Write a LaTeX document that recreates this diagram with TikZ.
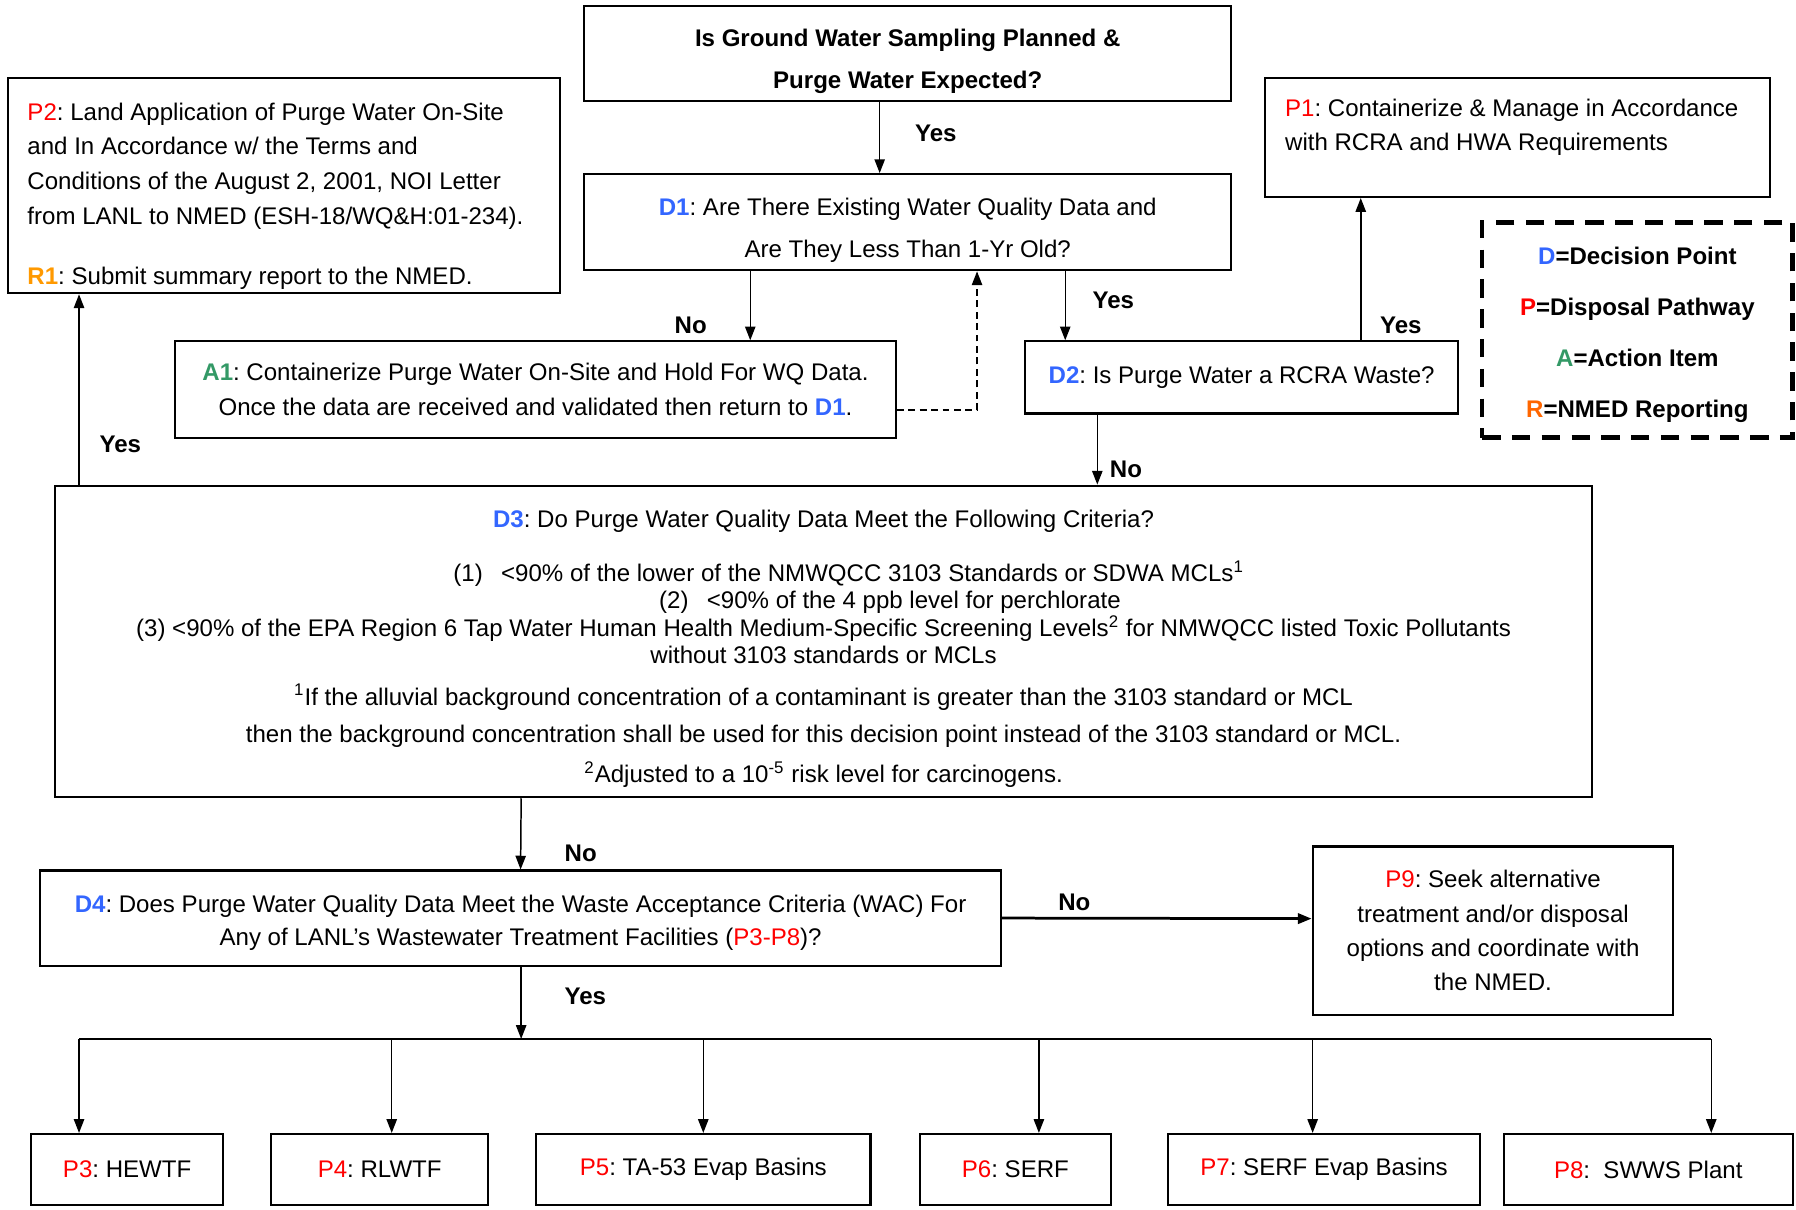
\documentclass[tikz,border=0pt]{standalone}
\usepackage{fontspec}
\setmainfont{Liberation Sans}
\usepackage{xcolor}
\usetikzlibrary{arrows.meta}
\definecolor{dblue}{RGB}{51,102,255}
\definecolor{pred}{RGB}{255,0,0}
\definecolor{agreen}{RGB}{51,153,102}
\definecolor{rorange}{RGB}{255,153,0}
\definecolor{rlegend}{RGB}{255,102,0}
\newcommand{\dpt}[1]{\textcolor{dblue}{\bfseries #1}}
\newcommand{\pwy}[1]{\textcolor{pred}{#1}}
\newcommand{\act}[1]{\textcolor{agreen}{\bfseries #1}}
\newcommand{\rpt}[1]{\textcolor{rorange}{\bfseries #1}}
\newcommand{\boxfont}[1]{\fontsize{10.5}{#1}\selectfont\frenchspacing}

\begin{document}
\begin{tikzpicture}[x=0.5pt,y=-0.5pt,>={Triangle[length=6pt,width=4.5pt]},
  box/.style={draw,line width=0.9pt,inner sep=0pt,align=center,font=\boxfont{15pt}},
  lbl/.style={font=\boxfont{13pt}\bfseries},
  arr/.style={->,line width=0.65pt}]

    \useasboundingbox (0,0) rectangle (1568,1056);

    % The boxes
	\node [box,minimum width=282.5pt,minimum height=41.5pt,font=\boxfont{18pt}\bfseries] at (792.5,46.5) (top) {\rule{0pt}{14.7pt}Is Ground Water Sampling Planned \&\\Purge Water Expected?};
	\node [box,minimum width=282.5pt,minimum height=42pt,font=\boxfont{18pt}] at (792.5,194) (D1) {\rule{0pt}{14.7pt}\dpt{D1}: Are There Existing Water Quality Data and\\Are They Less Than 1-Yr Old?};
	\node [box,minimum width=241pt,minimum height=94pt,inner xsep=8.5pt,text width=224pt,align=flush left,font=\boxfont{15.2pt}] at (248,162) (P2) {\rule{0pt}{16.6pt}\pwy{P2}: Land Application of Purge Water On-Site\\and In Accordance w/ the Terms and\\Conditions of the August 2, 2001, NOI Letter\\from LANL to NMED (ESH-18/WQ\&H:01-234).\\[10.8pt]\rpt{R1}: Submit summary report to the NMED.};
	\node [box,minimum width=220.5pt,minimum height=52pt,inner xsep=9pt,text width=202.5pt,align=flush left,font=\boxfont{15.2pt}] at (1324.5,120) (P1) {\pwy{P1}: Containerize \& Manage in Accordance\\with RCRA and HWA Requirements\rule[-11pt]{0pt}{0pt}};
	\node [box,line width=2pt,dash pattern=on 8pt off 5pt,minimum width=135.5pt,minimum height=94pt,font=\boxfont{22.2pt}\bfseries] at (1429.5,288) (key) {\rule{0pt}{11.7pt}\dpt{D}=Decision Point\\\pwy{P}=Disposal Pathway\\\act{A}=Action Item\\\textcolor{rlegend}{R}=NMED Reporting};
	\node [box,minimum width=314.5pt,minimum height=42pt] at (467.5,340) (A1) {\act{A1}: Containerize Purge Water On-Site and Hold For WQ Data.\\Once the data are received and validated then return to \dpt{D1}.};
	\node [box,minimum width=189pt,minimum height=31.5pt] at (1084,329.5) (D2) {\dpt{D2}: Is Purge Water a RCRA Waste?};
	\node [box,minimum width=671pt,minimum height=136pt,font=\boxfont{12pt}] at (719,560) (D3) {\rule{0pt}{14.2pt}\dpt{D3}: Do Purge Water Quality Data Meet the Following Criteria?\\[11.5pt]
	  \hspace*{22pt}(1)\hspace{8pt}<90\% of the lower of the NMWQCC 3103 Standards or SDWA MCLs\textsuperscript{1}\\
	  \hspace*{58pt}(2)\hspace{8pt}<90\% of the 4 ppb level for perchlorate\\
	  (3) <90\% of the EPA Region 6 Tap Water Human Health Medium-Specific Screening Levels\textsuperscript{2} for NMWQCC listed Toxic Pollutants\\
	  without 3103 standards or MCLs\\[6pt]
	  \textsuperscript{1}If the alluvial background concentration of a contaminant is greater than the 3103 standard or MCL\\[4.5pt]
	  then the background concentration shall be used for this decision point instead of the 3103 standard or MCL.\\[5.5pt]
	  \textsuperscript{2}Adjusted to a 10\textsuperscript{-5} risk level for carcinogens.};
	\node [box,minimum width=419.5pt,minimum height=41.5pt,font=\boxfont{14.5pt}] at (454.5,801.5) (D4) {\rule{0pt}{11.7pt}\dpt{D4}: Does Purge Water Quality Data Meet the Waste Acceptance Criteria (WAC) For\\Any of LANL’s Wastewater Treatment Facilities (\pwy{P3-P8})?};
	\node [box,minimum width=157.5pt,minimum height=73.5pt] at (1303.5,812.5) (P9) {\pwy{P9}: Seek alternative\\treatment and/or disposal\\options and coordinate with\\the NMED.};

	% Bottom row
	\node [box,minimum width=84pt,minimum height=31pt] at (111,1021) (P3) {\pwy{P3}: HEWTF};
	\node [box,minimum width=94.5pt,minimum height=31pt] at (331.5,1021) (P4) {\pwy{P4}: RLWTF};
	\node [box,minimum width=146pt,minimum height=31pt] at (614,1021) (P5) {\pwy{P5}: TA-53 Evap Basins};
	\node [box,minimum width=83.5pt,minimum height=31pt] at (886.5,1021) (P6) {\pwy{P6}: SERF};
	\node [box,minimum width=136pt,minimum height=31pt] at (1156,1021) (P7) {\pwy{P7}: SERF Evap Basins};
	\node [box,minimum width=126pt,minimum height=31pt] at (1439,1021) (P8) {\pwy{P8}:\ \ SWWS Plant};

	% Answers
	\node [lbl] at (817,116) (yes1) {Yes};
	\node [lbl] at (603,284) (no1) {No};
	\node [lbl] at (972,262) (yes2) {Yes};
	\node [lbl] at (1223,284) (yes3) {Yes};
	\node [lbl] at (983,410) (no2) {No};
	\node [lbl] at (105,388) (yes4) {Yes};
	\node [lbl] at (507,745) (no3) {No};
	\node [lbl] at (938,788) (no4) {No};
	\node [lbl] at (511,870) (yes5) {Yes};

	% Edges
	\path[arr]
	([xshift=-12.25pt]top.south) edge ([xshift=-12.25pt]D1.north)
	([xshift=-68.75pt]D1.south) edge ([xshift=93.75pt]A1.north)
	([xshift=68.75pt]D1.south) edge ([xshift=-77pt]D2.north)
	([xshift=52pt]D2.north) edge ([xshift=-68.25pt]P1.south)
	([xshift=-63pt]D2.south) edge ([xshift=119.5pt]D3.north)
	([xshift=-325pt]D3.north) edge ([xshift=-89.5pt]P2.south)
	([xshift=-132pt]D3.south) edge (D4.north);

	\draw[arr,dashed,dash pattern=on 3pt off 2pt] ([yshift=-9pt]A1.east) -| ([xshift=30.25pt]D1.south);
	\draw[arr,line width=1.2pt] (D4.east) -- ([yshift=5.25pt]P9.west);

	% Split to the facilities
	\coordinate (bar) at (455,907);
	\coordinate (t3) at (69,907);
	\coordinate (t4) at (342,907);
	\coordinate (t5) at (614,907);
	\coordinate (t6) at (907,907);
	\coordinate (t7) at (1146,907);
	\coordinate (t8) at (1494,907);
	\draw[line width=1pt] (t3) -- (t8);
	\draw[arr] (D4.south -| bar) -- (bar);
	\path[arr]
	(t3) edge (t3 |- P3.north)
	(t4) edge (t4 |- P4.north)
	(t5) edge (t5 |- P5.north)
	(t6) edge (t6 |- P6.north)
	(t7) edge (t7 |- P7.north)
	(t8) edge (t8 |- P8.north);

\end{tikzpicture}
\end{document}
